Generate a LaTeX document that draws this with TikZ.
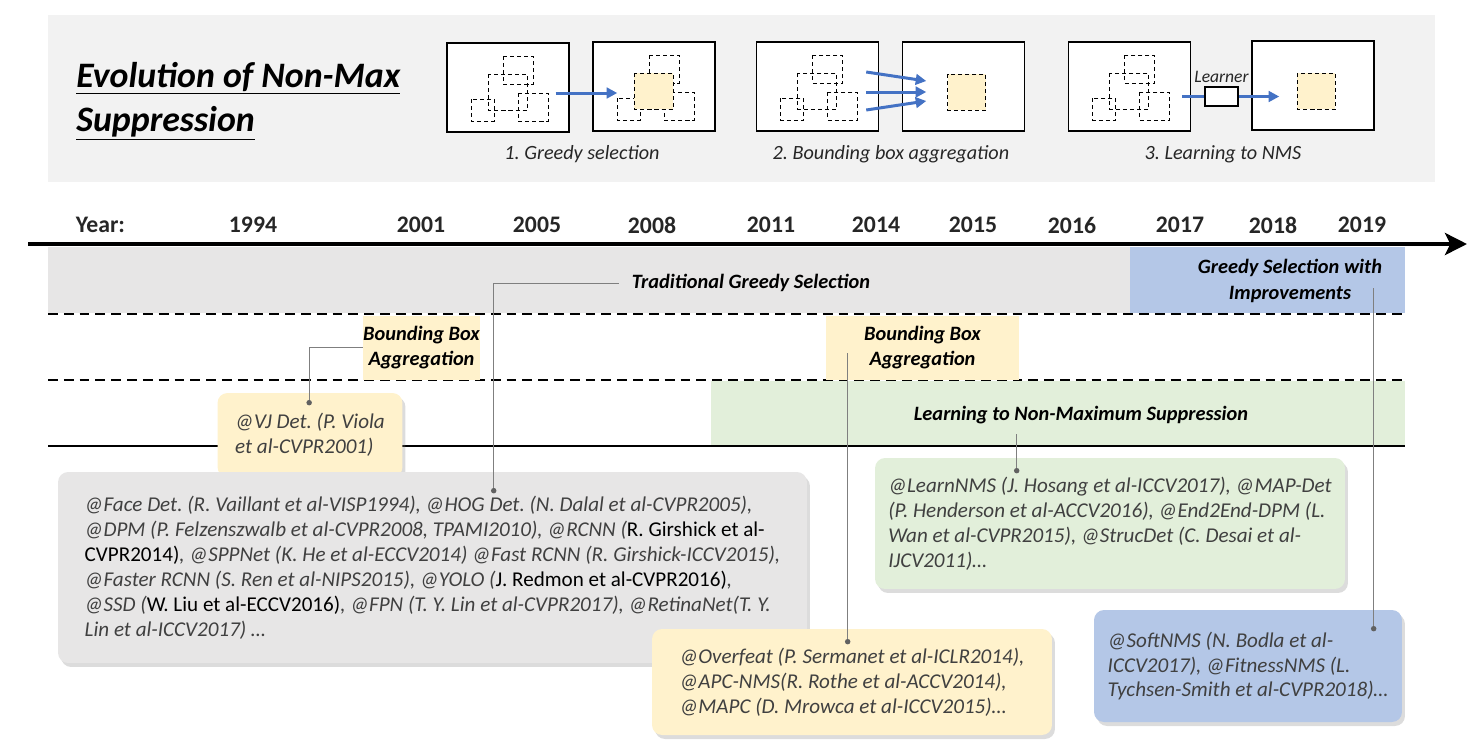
\documentclass[tikz,border=0pt]{standalone}
\usepackage{fontspec}
\setmainfont{Carlito}
\usetikzlibrary{positioning,calc,arrows.meta,shadows}
\frenchspacing

\definecolor{panelgray}{HTML}{F2F2F2}
\definecolor{bandgray}{HTML}{E7E6E6}
\definecolor{bandblue}{HTML}{B4C7E7}
\definecolor{bandyellow}{HTML}{FFF2CC}
\definecolor{bandgreen}{HTML}{E2EFDA}
\definecolor{arrowblue}{HTML}{4472C4}
\definecolor{textgray}{HTML}{404040}
\definecolor{leadgray}{HTML}{7F7F7F}

\tikzstyle{photo} = [draw, rectangle, line width=0.85pt, fill=white, minimum width=2.44cm, minimum height=1.78cm, inner sep=0pt]
\tikzstyle{cand} = [draw, line width=0.7pt, dash pattern=on 2.3pt off 1.7pt]
\tikzstyle{kept} = [cand, fill=bandyellow]
\tikzstyle{flow} = [draw=arrowblue, line width=1.7pt, -{Triangle[length=6pt, width=6pt]}]
\tikzstyle{caption} = [font=\fontsize{11.5}{14}\selectfont\itshape, text=black!85, inner sep=0pt]
\tikzstyle{titletext} = [font=\fontsize{20.4}{24}\selectfont\bfseries\itshape, inner sep=0pt]
\tikzstyle{year} = [font=\fontsize{13.5}{16}\selectfont\bfseries, text=black!85, inner sep=0pt]
\tikzstyle{timeaxis} = [line width=2.4pt, -{Stealth[length=12.5pt, width=12.5pt, inset=3pt]}]
\tikzstyle{laneline} = [line width=0.85pt, dash pattern=on 5.6pt off 3.4pt]
\tikzstyle{bandlabel} = [font=\fontsize{11.6}{14.6}\selectfont\bfseries\itshape, align=center, inner sep=0pt]
\tikzstyle{refbox} = [rectangle, rounded corners=0.2cm, align=left, inner sep=0pt, font=\fontsize{12}{14.2}\selectfont\itshape, text=textgray, drop shadow={shadow xshift=0.06cm, shadow yshift=-0.08cm, opacity=0.28}]
\tikzstyle{leader} = [draw=leadgray, line width=0.55pt]
\tikzstyle{leaddot} = [circle, fill=black!62, inner sep=0pt, minimum size=0.11cm]

\newcommand{\upref}[1]{{\upshape\color{black}#1}}
\newcommand{\clutter}[1]{%
  \draw[cand] ($(#1.north west)+(57,14)$) rectangle ++(30,28);
  \draw[cand] ($(#1.north west)+(42,32)$) rectangle ++(39,36);
  \draw[cand] ($(#1.north west)+(25,57)$) rectangle ++(23,22);
  \draw[cand] ($(#1.north west)+(72,51)$) rectangle ++(30,28);
}

\begin{document}
\begin{tikzpicture}[x=0.02cm, y=-0.02cm]
	\useasboundingbox (0,0) rectangle (1475,755);

	% top panel
	\fill[panelgray] (48,15) rectangle (1435,182);
	\node[titletext, anchor=base west] (title1) at (76,87) {\underline{Evolution of Non-Max}};
	\node[titletext, anchor=base west] (title2) at (76,131) {\underline{Suppression}};

	\node[photo] (f1) at (508,87.5) {};
	\node[photo] (f2) at (654,86.5) {};
	\node[photo] (f3) at (817.5,86.5) {};
	\node[photo] (f4) at (963.5,86.5) {};
	\node[photo] (f5) at (1129.5,86.5) {};
	\node[photo] (f6) at (1313,85.5) {};

	\clutter{f1}
	\clutter{f2}
	\clutter{f3}
	\clutter{f5}
	\draw[kept] ($(f2.north west)+(42,32)$) rectangle ++(39,36);
	\draw[kept] ($(f4.north west)+(46,33)$) rectangle ++(38,36);
	\draw[kept] ($(f6.north west)+(46,33)$) rectangle ++(38,36);

	\draw[flow] ($(f1.east)+(-14,5.5)$) -- ($(f2.west)+(25,6.5)$);
	\draw[flow] ($(f3.east)+(-13,-14.5)$) -- ($(f4.west)+(24.5,-5.5)$);
	\draw[flow] ($(f3.east)+(-13,5.5)$) -- ($(f4.west)+(24.5,5.5)$);
	\draw[flow] ($(f3.east)+(-13,23.5)$) -- ($(f4.west)+(24.5,14.5)$);

	\node[draw, fill=white, line width=0.85pt, minimum width=0.66cm, minimum height=0.38cm, inner sep=0pt] (lrn) at (1221.5,96.5) {};
	\node[above=0.06cm of lrn, font=\fontsize{10}{12}\selectfont\itshape, text=black!85, inner sep=0pt] (lrnlabel) {Learner};
	\draw[arrowblue, line width=1.7pt] ($(f5.east)+(-9,10)$) -- (lrn.west);
	\draw[flow] (lrn.east) -- ($(f6.west)+(28,11)$);

	\node[caption] (cap1) at (582,154) {1. Greedy selection};
	\node[caption] (cap2) at (891,154) {2. Bounding box aggregation};
	\node[caption] (cap3) at (1223,154) {3. Learning to NMS};

	% timeline
	\node[year] (yr0) at (100.5,225) {Year:};
	\node[year] (yr1) at (253,225) {1994};
	\node[year] (yr2) at (421,225) {2001};
	\node[year] (yr3) at (537,225) {2005};
	\node[year] (yr4) at (652,225) {2008};
	\node[year] (yr5) at (771,225) {2011};
	\node[year] (yr6) at (876,225) {2014};
	\node[year] (yr7) at (973,225) {2015};
	\node[year] (yr8) at (1072,225) {2016};
	\node[year] (yr9) at (1180,225) {2017};
	\node[year] (yr10) at (1273,225) {2018};
	\node[year] (yr11) at (1362,225) {2019};

	\coordinate (axstart) at (28,244);
	\coordinate (axend) at (1467,244);
	\draw[timeaxis] (axstart) -- (axend);

	% bands
	\fill[bandgray] (48,247) rectangle (1130,313);
	\fill[bandblue] (1130,247) rectangle (1405,313);
	\fill[bandgreen] (711,381) rectangle (1405,445);
	\draw[laneline] (48,314) -- (1405,314);
	\draw[laneline] (48,380) -- (1405,380);
	\draw[line width=1.1pt] (48,446) -- (1405,446);

	\node[bandlabel, inner xsep=0.24cm] (tgs) at (751,283) {Traditional Greedy Selection};
	\node[bandlabel] (gsi) at (1290,281) {Greedy Selection with\\Improvements};
	\node[bandlabel, fill=bandyellow, minimum width=2.3cm, minimum height=1.28cm] (bba1) at (421.5,347.5) {Bounding Box\\Aggregation};
	\node[bandlabel, fill=bandyellow, minimum width=3.86cm, minimum height=1.28cm] (bba2) at (922.5,347.5) {Bounding Box\\Aggregation};
	\node[bandlabel, inner ysep=0.2cm] (lnms) at (1081,415) {Learning to Non-Maximum Suppression};

	% references
	\node[refbox, fill=bandyellow, minimum width=3.7cm, minimum height=1.68cm] (vj) at (310,435) {@VJ Det. (P. Viola\\et al-CVPR2001)};
	\node[refbox, fill=bandgray, minimum width=14.98cm, minimum height=3.82cm] (greedy) at (432.5,567.5) {@Face Det. (R. Vaillant et al-VISP1994), @HOG Det. (N. Dalal et al-CVPR2005),\\@DPM (P. Felzenszwalb et al-CVPR2008, TPAMI2010), @RCNN (\upref{R. Girshick et al-}\\\upref{CVPR2014)}, @SPPNet (K. He et al-ECCV2014) @Fast RCNN (R. Girshick-ICCV2015),\\@Faster RCNN (S. Ren et al-NIPS2015), @YOLO (\upref{J. Redmon et al-CVPR2016)},\\@SSD (\upref{W. Liu et al-ECCV2016)}, @FPN (T. Y. Lin et al-CVPR2017), @RetinaNet(T. Y.\\Lin et al-ICCV2017) …};
	\node[refbox, fill=bandgreen, minimum width=9.4cm, minimum height=2.62cm] (learn) at (1110,523.5) {@LearnNMS (J. Hosang et al-ICCV2017), @MAP-Det\\(P. Henderson et al-ACCV2016), @End2End-DPM (L.\\Wan et al-CVPR2015), @StrucDet (C. Desai et al-\\IJCV2011)…};
	\node[refbox, fill=bandyellow, minimum width=8cm, minimum height=2.12cm] (aggr) at (852,682) {@Overfeat (P. Sermanet et al-ICLR2014),\\@APC-NMS(R. Rothe et al-ACCV2014),\\@MAPC (D. Mrowca et al-ICCV2015)…};
	\node[refbox, fill=bandblue, minimum width=6.16cm, minimum height=2.24cm] (soft) at (1248,666) {@SoftNMS (N. Bodla et al-\\ICCV2017), @FitnessNMS (L.\\Tychsen-Smith et al-CVPR2018)…};

	% leaders
	\node[leaddot] (vjdot) at ($(vj.north west)+(92,10)$) {};
	\node[leaddot] (greedydot) at ($(greedy.north west)+(436,19)$) {};
	\node[leaddot] (learndot) at ($(learn.north west)+(142,13)$) {};
	\node[leaddot] (aggrdot) at ($(aggr.north west)+(196,13)$) {};
	\node[leaddot] (softdot) at ($(soft.north west)+(280,19)$) {};
	\coordinate (aggrtop) at ($(aggrdot |- bba2.center)+(0,5)$);
	\coordinate (softtop) at ($(softdot |- gsi.center)+(0,7)$);

	\draw[leader] (vjdot) |- (bba1.west);
	\draw[leader] (greedydot) |- (tgs.west);
	\draw[leader] (learndot) -- (learndot |- lnms.south);
	\draw[leader] (aggrdot) -- (aggrtop);
	\draw[leader] (softdot) -- (softtop);
\end{tikzpicture}
\end{document}
